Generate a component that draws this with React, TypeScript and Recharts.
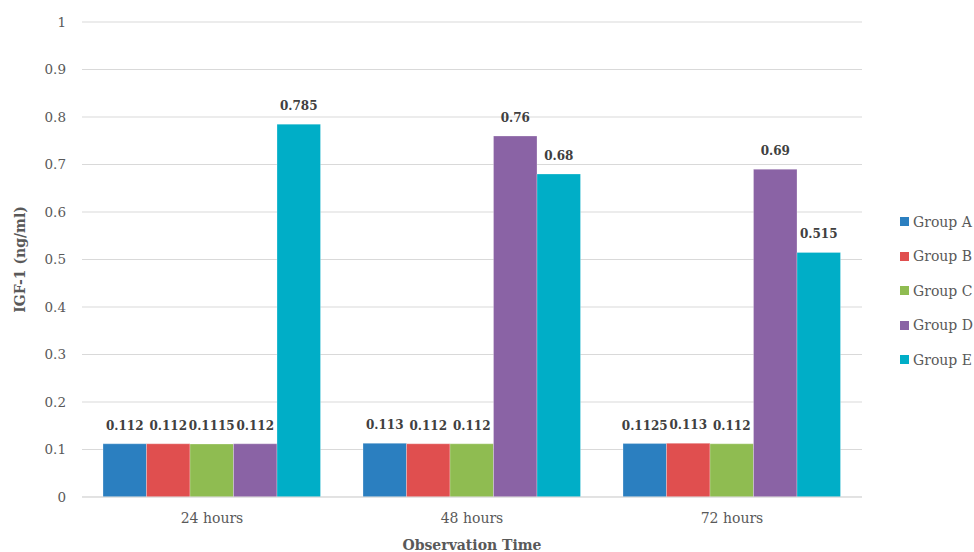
import { BarChart, Bar, XAxis, YAxis, CartesianGrid, Legend, LabelList } from "recharts";

const categories = ["24 hours", "48 hours", "72 hours"];
const groupA = [0.112, 0.113, 0.1125];
const groupB = [0.112, 0.112, 0.113];
const groupC = [0.1115, 0.112, 0.112];
const groupD = [0.112, 0.76, 0.69];
const groupE = [0.785, 0.68, 0.515];
const yTicks = [0, 0.1, 0.2, 0.3, 0.4, 0.5, 0.6, 0.7, 0.8, 0.9, 1];

const series = [
  { key: "a", name: "Group A", color: "#2b7fc0", values: groupA },
  { key: "b", name: "Group B", color: "#e04f4f", values: groupB },
  { key: "c", name: "Group C", color: "#8fbc51", values: groupC },
  { key: "d", name: "Group D", color: "#8a63a5", values: groupD },
  { key: "e", name: "Group E", color: "#00aec7", values: groupE },
];

const data = categories.map((cat, i) => {
  const row: any = { cat };
  series.forEach(s => { row[s.key] = s.values[i]; });
  return row;
});

const FONT = "'DejaVu Serif', serif";
const TXT = "#595959";

function LegendBox() {
  return (
    <div style={{ display: "flex", flexDirection: "column", gap: "17.5px", fontFamily: FONT, fontSize: 14, color: TXT }}>
      {series.map(s => (
        <div key={s.key} style={{ display: "flex", alignItems: "center", height: 17 }}>
          <span style={{ width: 9, height: 9, background: s.color, marginRight: 4, display: "inline-block" }} />
          <span>{s.name}</span>
        </div>
      ))}
    </div>
  );
}

export default function App() {
  return (
    <div style={{ position: "absolute", left: 0, top: 0, width: 974, height: 552, background: "#fff" }}>
      <BarChart
        width={974}
        height={552}
        data={data}
        margin={{ top: 22, right: 112, left: 22, bottom: 0 }}
        barSize={43.5}
        barGap={0}
      >
        <CartesianGrid vertical={false} stroke="#d9d9d9" strokeWidth={1} />
        <XAxis
          dataKey="cat"
          height={55}
          axisLine={{ stroke: "#d9d9d9" }}
          tickLine={false}
          tickSize={6}
          tickMargin={10}
          tick={{ fill: TXT, fontSize: 14, fontFamily: FONT }}
          label={({ viewBox }: any) => (
            <text
              x={viewBox.x + viewBox.width / 2}
              y={viewBox.y + 53}
              textAnchor="middle"
              fontFamily={FONT}
              fontSize={14}
              fontWeight="bold"
              fill={TXT}
            >
              Observation Time
            </text>
          )}
        />
        <YAxis
          width={60}
          domain={[0, 1]}
          ticks={yTicks}
          axisLine={false}
          tickLine={false}
          tickSize={6}
          tickMargin={10}
          tick={{ fill: TXT, fontSize: 13.5, fontFamily: FONT }}
          label={({ viewBox }: any) => {
            const cx = viewBox.x - 2;
            const cy = viewBox.y + viewBox.height / 2;
            return (
              <text
                x={cx}
                y={cy}
                transform={`rotate(-90 ${cx} ${cy})`}
                textAnchor="middle"
                dominantBaseline="central"
                fontFamily={FONT}
                fontSize={14}
                fontWeight="bold"
                fill={TXT}
              >
                IGF-1 (ng/ml)
              </text>
            );
          }}
        />
        <Legend
          layout="horizontal"
          align="center"
          verticalAlign="middle"
          wrapperStyle={{ left: 900, top: 213, width: 80 }}
          content={() => <LegendBox />}
        />
        {series.map(s => (
          <Bar
            key={s.key}
            dataKey={s.key}
            name={s.name}
            fill={s.color}
            stroke="#ffffff"
            strokeOpacity={0.35}
            strokeWidth={0.75}
            isAnimationActive={false}
          >
            <LabelList
              dataKey={s.key}
              position="top"
              offset={14}
              fill="#404040"
              fontSize={12}
              fontWeight="bold"
              fontFamily={FONT}
              formatter={(v: any) => String(v)}
            />
          </Bar>
        ))}
      </BarChart>
    </div>
  );
}
